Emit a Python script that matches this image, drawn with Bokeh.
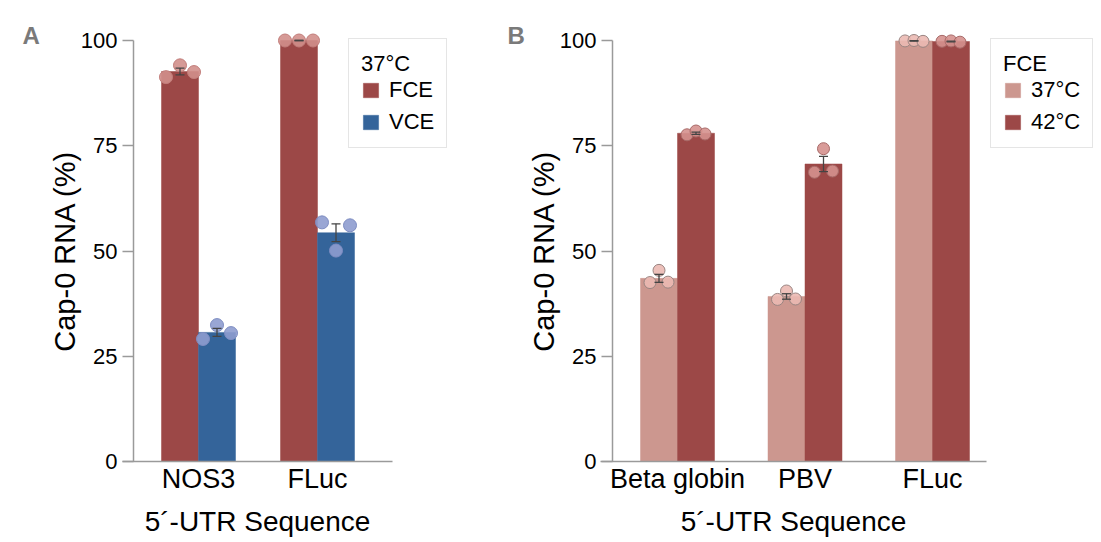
import numpy as np
from bokeh.plotting import figure
from bokeh.models import (Range1d, FixedTicker, Legend, LegendItem, Label,
                          Whisker, TeeHead, ColumnDataSource)
from bokeh.layouts import row
from bokeh.embed import file_html
from bokeh.resources import INLINE

# ---------------- data ----------------
# Panel A (37°C): replicate values, left / middle / right dot order
a_categories = ["NOS3", "FLuc"]
a_series = ["FCE", "VCE"]
a_fce_reps = [[91.3, 94.1, 92.5], [100.0, 100.0, 100.0]]
a_vce_reps = [[29.1, 32.4, 30.5], [56.8, 50.1, 56.1]]
a_legend_title = "37°C"

# Panel B (FCE): replicate values
b_categories = ["Beta globin", "PBV", "FLuc"]
b_series = ["37°C", "42°C"]
b_37_reps = [[42.5, 45.4, 42.6], [38.5, 40.5, 38.6], [99.9, 100.0, 99.8]]
b_42_reps = [[77.6, 78.5, 77.8], [68.7, 74.3, 69.0], [99.8, 99.9, 99.6]]
b_legend_title = "FCE"

y_ticks = [0, 25, 50, 75, 100]
x_label = "5´-UTR Sequence"
y_label = "Cap-0 RNA (%)"

# ---------------- style / layout ----------------
FONT = "Liberation Sans"
H = 540
Y0_PX = 461          # pixel row of value 0
PX_PER_UNIT = 4.21   # vertical pixels per percent
RED = "#9C4847"
BLUE = "#34649A"
PINK = "#CC978F"
AXIS_C = "#9a9a9a"


def panel(cats, names, reps_list, colors, pt_fill, pt_line, width,
          center1_px, spacing_px, yaxis_px, xaxis_from_px, xaxis_to_px,
          bar_px, jitter_px, pt_size, letter, letter_x,
          legend_title, legend_x, legend_top):
    def dx(px):  # pixel column -> data x
        return 1 + (px - center1_px) / spacing_px

    x_start, x_end = dx(0), dx(width)
    y_start = -(H - Y0_PX) / PX_PER_UNIT
    y_end = Y0_PX / PX_PER_UNIT
    bar_w = bar_px / spacing_px
    jitter = jitter_px / spacing_px

    p = figure(width=width, height=H, x_range=Range1d(x_start, x_end),
               y_range=Range1d(y_start, y_end), output_backend="svg",
               toolbar_location=None, min_border=0, min_border_left=0,
               min_border_right=0, min_border_top=0, min_border_bottom=0)
    p.outline_line_color = None
    p.grid.visible = False

    n = len(names)
    items = []
    for k in range(n):
        reps = reps_list[k]
        off = (k - (n - 1) / 2) * bar_w
        xs = [i + 1 + off for i in range(len(cats))]
        means = [float(np.mean(r)) for r in reps]
        sems = [float(np.std(r, ddof=1) / np.sqrt(len(r))) for r in reps]
        src = ColumnDataSource(dict(x=xs, top=means,
                                    lo=[m - s for m, s in zip(means, sems)],
                                    hi=[m + s for m, s in zip(means, sems)]))
        r = p.vbar(x="x", top="top", bottom=0, width=bar_w, source=src,
                   fill_color=colors[k], line_color=colors[k], line_width=0.5)
        items.append(LegendItem(label=names[k], renderers=[r]))
        px, py = [], []
        for i, rr in enumerate(reps):
            for j, v in enumerate(rr):
                px.append(xs[i] + (j - 1) * jitter)
                py.append(v)
        p.scatter(px, py, size=pt_size, fill_color=pt_fill[k],
                  line_color=pt_line[k], line_width=1, fill_alpha=0.9)
        w = Whisker(base="x", upper="hi", lower="lo", source=src,
                    line_color="#444444", line_width=1.3, level="overlay",
                    upper_head=TeeHead(size=9, line_color="#444444", line_width=1.3),
                    lower_head=TeeHead(size=9, line_color="#444444", line_width=1.3))
        p.add_layout(w)

    # y axis
    ya = p.yaxis[0]
    ya.fixed_location = dx(yaxis_px)
    ya.bounds = (0, 100)
    ya.ticker = FixedTicker(ticks=y_ticks)
    ya.minor_tick_line_color = None
    ya.major_tick_out = 11
    ya.major_tick_in = 0
    ya.axis_line_color = AXIS_C
    ya.axis_line_width = 1.5
    ya.major_tick_line_color = AXIS_C
    ya.major_tick_line_width = 1.5
    ya.major_label_text_font = FONT
    ya.major_label_text_font_size = "22px"
    ya.major_label_text_color = "black"
    ya.major_label_standoff = 5
    ya.axis_label = y_label
    ya.axis_label_text_font = FONT
    ya.axis_label_text_font_size = "29px"
    ya.axis_label_text_font_style = "normal"
    ya.axis_label_text_color = "black"
    ya.axis_label_standoff = -3

    # x axis
    xa = p.xaxis[0]
    xa.fixed_location = 0
    xa.bounds = (dx(xaxis_from_px), dx(xaxis_to_px))
    xa.ticker = FixedTicker(ticks=[i + 1 for i in range(len(cats))])
    xa.major_label_overrides = {i + 1: c for i, c in enumerate(cats)}
    xa.major_tick_line_color = None
    xa.major_tick_out = 0
    xa.major_tick_in = 0
    xa.minor_tick_line_color = None
    xa.axis_line_color = AXIS_C
    xa.axis_line_width = 1.5
    xa.major_label_text_font = FONT
    xa.major_label_text_font_size = "27px"
    xa.major_label_text_color = "black"
    xa.major_label_standoff = 2
    xa.axis_label = x_label
    xa.axis_label_text_font = FONT
    xa.axis_label_text_font_size = "28px"
    xa.axis_label_text_font_style = "normal"
    xa.axis_label_text_color = "black"
    xa.axis_label_standoff = 9

    legend_h = 107
    legend = Legend(items=items, title=legend_title,
                    location=(legend_x, H - legend_top - legend_h),
                    title_text_font=FONT, title_text_font_size="22px",
                    title_text_font_style="normal", title_text_color="black",
                    label_text_font=FONT, label_text_font_size="22px",
                    label_text_color="black", glyph_width=19, glyph_height=18,
                    label_height=24, spacing=6, label_standoff=9,
                    title_standoff=0, padding=12, margin=0,
                    border_line_color="#cccccc", border_line_width=1.5,
                    background_fill_alpha=1.0)
    p.add_layout(legend)

    p.add_layout(Label(x=letter_x, y=H - 21, x_units="screen", y_units="screen",
                       text=letter, text_font=FONT, text_font_size="24px",
                       text_font_style="bold", text_color="#7a7a7a",
                       text_baseline="top"))
    return p


WA = 488
pa = panel(a_categories, a_series, [a_fce_reps, a_vce_reps], [RED, BLUE],
           ["#D28F8B", "#8E9CCF"], ["#C27D7A", "#7E8DC2"], WA,
           198, 119, 133, 122, 392, 37, 14, 13, "A", 22,
           a_legend_title, 348, 41)

pb = panel(b_categories, b_series, [b_37_reps, b_42_reps], [PINK, RED],
           ["#EBB9B2", "#D5918E"], ["#9a8582", "#A86A68"], 612,
           677 - WA, 127.5, 612 - WA, 600 - WA, 986 - WA, 37, 9, 12, "B", 507 - WA,
           b_legend_title, 990 - WA, 41)

layout = row(pa, pb)
open("out.html", "w").write(file_html(layout, INLINE))
